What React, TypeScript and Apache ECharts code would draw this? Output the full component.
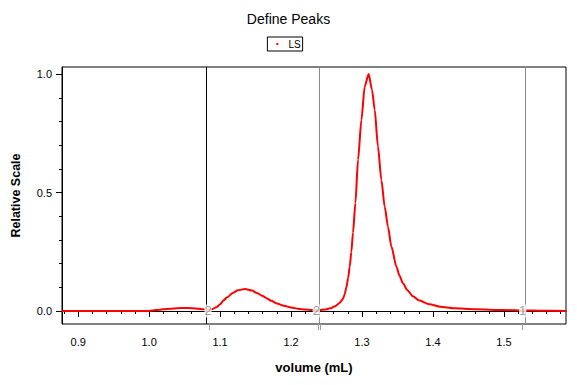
import React, { useEffect, useRef } from "react";
import * as echarts from "echarts";

// Chromatogram (LS detector), relative scale vs volume (mL)
const volumes = [
  0.8772, 0.95, 1.0, 1.01, 1.02, 1.03, 1.04, 1.05, 1.06, 1.07, 1.08, 1.088,
  1.095, 1.1, 1.105, 1.11, 1.118, 1.125, 1.135, 1.145, 1.152, 1.16, 1.166,
  1.172, 1.18, 1.19, 1.2, 1.21, 1.22, 1.23, 1.24, 1.248, 1.255, 1.262, 1.268,
  1.273, 1.2755, 1.278, 1.2805, 1.2827, 1.285, 1.2873, 1.2907, 1.2944,
  1.2992, 1.3038, 1.3094, 1.3141, 1.3179, 1.3225, 1.3273, 1.332, 1.3366,
  1.3414, 1.3485, 1.353, 1.3577, 1.364, 1.3718, 1.38, 1.3953, 1.41, 1.43,
  1.46, 1.5, 1.53, 1.55, 1.5875,
];
const lsValues = [
  0.0, 0.0, 0.0, 0.004, 0.007, 0.009, 0.012, 0.013, 0.012, 0.009, 0.006,
  0.007, 0.016, 0.028, 0.045, 0.058, 0.076, 0.087, 0.093, 0.086, 0.076, 0.063,
  0.053, 0.043, 0.032, 0.022, 0.015, 0.009, 0.006, 0.004, 0.004, 0.006, 0.011,
  0.02, 0.033, 0.05, 0.07, 0.1, 0.14, 0.187, 0.25, 0.33, 0.456, 0.638, 0.807,
  0.948, 1.0, 0.934, 0.85, 0.694, 0.553, 0.44, 0.356, 0.272, 0.187, 0.148,
  0.117, 0.088, 0.062, 0.045, 0.028, 0.018, 0.011, 0.007, 0.004, 0.002, 0.001,
  0.0,
];

// Peak boundary markers
const markerVolumes = [1.0845, 1.2382, 1.2411, 1.5265];
const markerColors = ["#000000", "#888888", "#888888", "#888888"];
const markerLabelVolumes = [1.083, 1.2355, 1.5265];
const markerLabels = ["2", "2", "1"];

const xMajorTicks = [0.9, 1.0, 1.1, 1.2, 1.3, 1.4, 1.5];
const xMinorTicks = [
  0.88, 0.92, 0.94, 0.96, 0.98, 1.02, 1.04, 1.06, 1.08, 1.12, 1.14, 1.16,
  1.18, 1.22, 1.24, 1.26, 1.28, 1.32, 1.34, 1.36, 1.38, 1.42, 1.44, 1.46,
  1.48, 1.52, 1.54, 1.56, 1.58,
];
const yMajorTicks = [0.0, 0.5, 1.0];
const yMinorTicks = [0.1, 0.2, 0.3, 0.4, 0.6, 0.7, 0.8, 0.9];

const X_MIN = 0.8772;
const X_MAX = 1.5875;
const Y_MIN = -0.055;
const Y_MAX = 1.03;

const FONT = "Liberation Sans";

export default function App() {
  const ref = useRef<HTMLDivElement>(null);

  useEffect(() => {
    if (!ref.current) return;
    const chart = echarts.init(ref.current, null, { renderer: "svg" });

    const baseX = {
      type: "value" as const,
      min: X_MIN,
      max: X_MAX,
      position: "bottom" as const,
      splitLine: { show: false },
    };
    const baseY = {
      type: "value" as const,
      min: Y_MIN,
      max: Y_MAX,
      position: "left" as const,
      splitLine: { show: false },
    };

    chart.setOption({
      animation: false,
      backgroundColor: "#ffffff",
      title: {
        text: "Define Peaks",
        left: "center",
        top: 12,
        padding: 0,
        textStyle: {
          fontFamily: FONT,
          fontSize: 14,
          fontWeight: "normal",
          color: "#000",
        },
      },
      legend: {
        data: [{ name: "LS", icon: "rect" }],
        left: "center",
        top: 37,
        padding: [2, 2, 2, 9],
        borderColor: "#000",
        borderWidth: 1,
        itemWidth: 2,
        itemHeight: 2,
        itemStyle: { color: "#ff0000" },
        textStyle: {
          fontFamily: FONT,
          fontSize: 10,
          color: "#000",
          padding: [0, 0, 0, 5],
        },
        selectedMode: false,
      },
      grid: {
        left: 62,
        right: 11,
        top: 67,
        bottom: 61,
        show: true,
        borderColor: "#000",
        borderWidth: 1,
      },
      xAxis: [
        {
          ...baseX,
          name: "volume (mL)",
          nameLocation: "middle",
          nameGap: 37,
          nameTextStyle: {
            fontFamily: FONT,
            fontSize: 13,
            fontWeight: "bold",
            color: "#000",
          },
          axisLine: { show: true, lineStyle: { color: "#000", width: 1 } },
          axisTick: {
            show: true,
            length: 6,
            customValues: xMajorTicks,
            lineStyle: { color: "#000" },
          },
          axisLabel: {
            customValues: xMajorTicks,
            formatter: (v: number) => v.toFixed(1),
            margin: 12,
            fontFamily: FONT,
            fontSize: 11,
            color: "#000",
          },
        },
        {
          ...baseX,
          axisLine: { show: false },
          axisTick: {
            show: true,
            length: 3,
            customValues: xMinorTicks,
            lineStyle: { color: "#000" },
          },
          axisLabel: { show: false },
        },
        {
          ...baseX,
          axisLine: { show: false },
          axisTick: {
            show: true,
            length: 6,
            customValues: markerVolumes,
            lineStyle: { color: "#999" },
          },
          axisLabel: { show: false },
        },
      ],
      yAxis: [
        {
          ...baseY,
          name: "Relative Scale",
          nameLocation: "middle",
          nameRotate: 90,
          nameGap: 40,
          nameTextStyle: {
            fontFamily: FONT,
            fontSize: 12.5,
            fontWeight: "bold",
            color: "#000",
          },
          axisLine: { show: true, lineStyle: { color: "#000", width: 1 } },
          axisTick: {
            show: true,
            length: 6,
            customValues: yMajorTicks,
            lineStyle: { color: "#000" },
          },
          axisLabel: {
            customValues: yMajorTicks,
            formatter: (v: number) => v.toFixed(1),
            margin: 10,
            fontFamily: FONT,
            fontSize: 11,
            color: "#000",
          },
        },
        {
          ...baseY,
          axisLine: { show: false },
          axisTick: {
            show: true,
            length: 3,
            customValues: yMinorTicks,
            lineStyle: { color: "#000" },
          },
          axisLabel: { show: false },
        },
      ],
      series: [
        {
          name: "LS",
          type: "line",
          xAxisIndex: 0,
          yAxisIndex: 0,
          data: volumes.map((v, i) => [v, lsValues[i]]),
          showSymbol: false,
          smooth: 0.25,
          smoothMonotone: "x",
          lineStyle: { color: "#ff0000", width: 2 },
          itemStyle: { color: "#ff0000" },
          markLine: {
            silent: true,
            symbol: "none",
            label: { show: false },
            data: markerVolumes.map((v, i) => ({
              xAxis: v,
              lineStyle: { color: markerColors[i], width: 1, type: "solid" },
            })),
          },
          z: 2,
        },
        {
          name: "markers",
          type: "scatter",
          xAxisIndex: 0,
          yAxisIndex: 0,
          symbol: "rect",
          symbolSize: 12,
          itemStyle: { color: "rgba(0,0,0,0)" },
          silent: true,
          label: {
            show: true,
            position: "inside",
            formatter: (p: any) => markerLabels[p.dataIndex],
            fontFamily: FONT,
            fontSize: 13,
            color: "#888",
            backgroundColor: "#fff",
            padding: [0, 0, 0, 0],
          },
          data: markerLabelVolumes.map((v) => [v, 0]),
          z: 5,
        },
      ],
    });

    return () => chart.dispose();
  }, []);

  return (
    <div
      ref={ref}
      style={{ position: "fixed", left: 0, top: 0, width: 577, height: 385 }}
    />
  );
}
